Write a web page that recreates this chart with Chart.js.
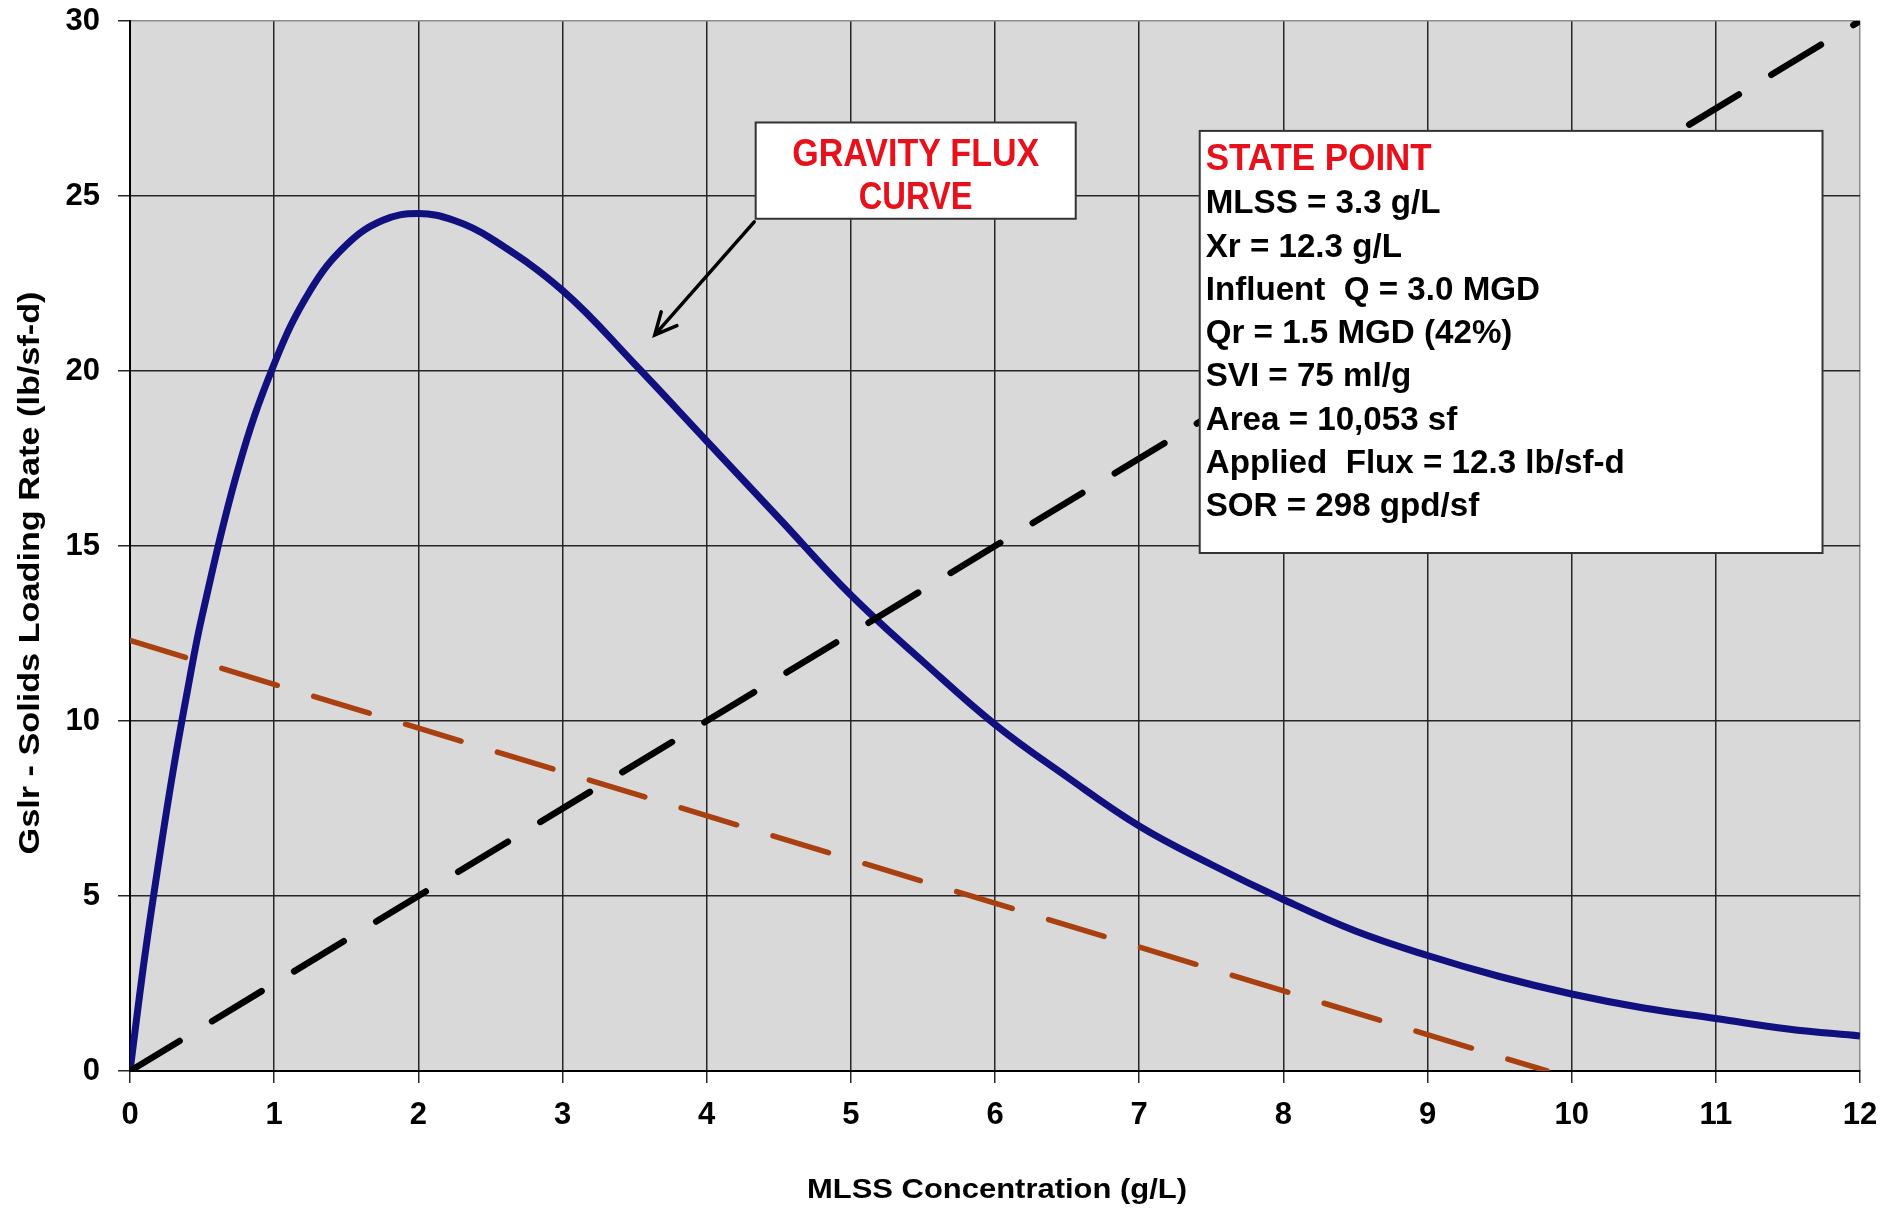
<!DOCTYPE html>
<html>
<head>
<meta charset="utf-8">
<script src="https://cdn.jsdelivr.net/npm/chart.js@4.4.1/dist/chart.umd.min.js"></script>
<style>
  html, body { margin: 0; padding: 0; background: #fff; }
  canvas { display: block; }
</style>
</head>
<body>
<canvas id="flux-chart" width="1883" height="1210"></canvas>
<script>
// gravity flux curve
const mlss = [0, 0.1, 0.2, 0.3, 0.4, 0.5, 0.75, 1, 1.25, 1.5, 1.75, 2, 2.25, 2.5, 3, 3.5, 4, 4.5, 5, 5.5, 6, 6.5, 7, 7.5, 8, 8.5, 9, 9.5, 10, 10.5, 11, 11.5, 12];
const gravityFlux = [0, 3.2, 6.0, 8.6, 10.9, 13.0, 17.2, 20.2, 22.3, 23.6, 24.3, 24.5, 24.3, 23.8, 22.3, 20.2, 18.0, 15.8, 13.6, 11.7, 9.9, 8.4, 7.0, 5.9, 4.9, 4.0, 3.3, 2.7, 2.2, 1.8, 1.5, 1.2, 1.0];

// overflow (black dashed) and underflow (brown dashed) operating lines
const overflowX = [0, 12];
const overflowFlux = [0, 30];
const underflowX = [0, 9.83];
const underflowFlux = [12.3, 0];

const xTickValues = [0, 1, 2, 3, 4, 5, 6, 7, 8, 9, 10, 11, 12];
const yTickValues = [0, 5, 10, 15, 20, 25, 30];

const xTitle = "MLSS Concentration (g/L)";
const yTitle = "Gslr - Solids Loading Rate (lb/sf-d)";

const gravityLabel = ["GRAVITY FLUX", "CURVE"];
const stateTitle = "STATE POINT";
const stateLines = [
  "MLSS = 3.3 g/L",
  "Xr = 12.3 g/L",
  "Influent  Q = 3.0 MGD",
  "Qr = 1.5 MGD (42%)",
  "SVI = 75 ml/g",
  "Area = 10,053 sf",
  "Applied  Flux = 12.3 lb/sf-d",
  "SOR = 298 gpd/sf",
];

const toPoints = (xs, ys) => xs.map((x, i) => ({ x: x, y: ys[i] }));

const FONT = "'Liberation Sans', Arial, sans-serif";

// box / arrow placement in data units
const gravityBox = { x1: 4.34, x2: 6.56, y1: 27.1, y2: 24.35 };
const arrowFrom = { x: 4.33, y: 24.26 };
const arrowTo = { x: 3.64, y: 21.03 };
const stateBox = { x1: 7.42, x2: 11.74, y1: 26.86, y2: 14.8 };

function squeezed(ctx, text, x, y, width) {
  const w = ctx.measureText(text).width;
  ctx.save();
  ctx.translate(x, y);
  ctx.scale(width / w, 1);
  ctx.fillText(text, 0, 0);
  ctx.restore();
}

const plotBackground = {
  id: "plotBackground",
  beforeDraw(chart) {
    const { ctx, chartArea: a } = chart;
    ctx.save();
    ctx.fillStyle = "#d9d9d9";
    ctx.fillRect(a.left, a.top, a.right - a.left, a.bottom - a.top);
    ctx.restore();
  },
};

const annotations = {
  id: "annotations",
  afterDatasetsDraw(chart) {
    const { ctx, scales } = chart;
    const px = (v) => scales.x.getPixelForValue(v);
    const py = (v) => scales.y.getPixelForValue(v);
    ctx.save();
    ctx.fillStyle = "#000";
    ctx.textBaseline = "alphabetic";

    // axis titles
    ctx.textAlign = "center";
    ctx.font = "bold 28px " + FONT;
    squeezed(ctx, xTitle, 997, 1198, 380);
    ctx.save();
    ctx.translate(39, 573);
    ctx.rotate(-Math.PI / 2);
    ctx.font = "bold 30px " + FONT;
    squeezed(ctx, yTitle, 0, 0, 563);
    ctx.restore();

    // arrow
    const ax0 = px(arrowFrom.x), ay0 = py(arrowFrom.y);
    const ax1 = px(arrowTo.x), ay1 = py(arrowTo.y);
    const ang = Math.atan2(ay1 - ay0, ax1 - ax0);
    ctx.strokeStyle = "#000";
    ctx.lineWidth = 3.5;
    ctx.lineCap = "round";
    ctx.beginPath();
    ctx.moveTo(ax0, ay0);
    ctx.lineTo(ax1, ay1);
    ctx.moveTo(ax1 - 24 * Math.cos(ang - 0.45), ay1 - 24 * Math.sin(ang - 0.45));
    ctx.lineTo(ax1, ay1);
    ctx.lineTo(ax1 - 24 * Math.cos(ang + 0.45), ay1 - 24 * Math.sin(ang + 0.45));
    ctx.stroke();

    // gravity flux box
    let bx = px(gravityBox.x1), by = py(gravityBox.y1);
    let bw = px(gravityBox.x2) - bx, bh = py(gravityBox.y2) - by;
    ctx.fillStyle = "#fff";
    ctx.fillRect(bx, by, bw, bh);
    ctx.strokeStyle = "#333";
    ctx.lineWidth = 2;
    ctx.strokeRect(bx, by, bw, bh);
    ctx.fillStyle = "#e8101a";
    ctx.font = "bold 38px " + FONT;
    ctx.textAlign = "center";
    squeezed(ctx, gravityLabel[0], bx + bw / 2, by + 43, 247);
    squeezed(ctx, gravityLabel[1], bx + bw / 2, by + 86, 114);

    // state point box
    bx = px(stateBox.x1); by = py(stateBox.y1);
    bw = px(stateBox.x2) - bx; bh = py(stateBox.y2) - by;
    ctx.fillStyle = "#fff";
    ctx.fillRect(bx, by, bw, bh);
    ctx.strokeStyle = "#333";
    ctx.lineWidth = 2;
    ctx.strokeRect(bx, by, bw, bh);
    ctx.textAlign = "left";
    ctx.fillStyle = "#e8101a";
    ctx.font = "bold 37px " + FONT;
    squeezed(ctx, stateTitle, bx + 6, by + 39, 226);
    ctx.fillStyle = "#000";
    ctx.font = "bold 33px " + FONT;
    const sx = 419 / ctx.measureText(stateLines[6]).width;
    stateLines.forEach((line, i) => {
      const w = ctx.measureText(line).width * sx;
      squeezed(ctx, line, bx + 6, by + 39 + 43.3 * (i + 1), w);
    });

    ctx.restore();
  },
};

const gridColor = (c) => (c.tick && (c.tick.value === 30 || c.tick.value === 12) ? "#8c8c8c" : "#262626");

const ctx = document.getElementById("flux-chart").getContext("2d");
const chart = new Chart(ctx, {
  type: "scatter",
  data: {
    datasets: [
      {
        label: "Overflow",
        data: toPoints(overflowX, overflowFlux),
        showLine: true,
        borderColor: "#000",
        borderWidth: 6.5,
        borderDash: [58, 38],
        borderCapStyle: "round",
        pointRadius: 0,
      },
      {
        label: "Underflow",
        data: toPoints(underflowX, underflowFlux),
        showLine: true,
        borderColor: "#a8400f",
        borderWidth: 5.5,
        borderDash: [58, 38],
        borderCapStyle: "round",
        pointRadius: 0,
      },
      {
        label: "Gravity Flux",
        data: toPoints(mlss, gravityFlux),
        showLine: true,
        borderColor: "#10107e",
        borderWidth: 7,
        tension: 0.4,
        pointRadius: 0,
      },
    ],
  },
  options: {
    responsive: false,
    animation: false,
    layout: { padding: { top: 21, right: 23, left: 0, bottom: 0 } },
    plugins: {
      legend: { display: false },
      tooltip: { enabled: false },
    },
    scales: {
      x: {
        type: "linear",
        min: 0,
        max: 12,
        afterBuildTicks: (s) => { s.ticks = xTickValues.map((v) => ({ value: v })); },
        afterFit: (s) => {
          s.height = 139;
          s.paddingLeft = 0;
          s.paddingRight = 0;
        },
        ticks: {
          color: "#000",
          padding: 14,
          font: { family: FONT, size: 31, weight: "bold" },
        },
        grid: { color: gridColor, lineWidth: 1.5, tickLength: 12, tickColor: "#262626" },
        border: { color: "#000", width: 2 },
      },
      y: {
        min: 0,
        max: 30,
        afterBuildTicks: (s) => { s.ticks = yTickValues.map((v) => ({ value: v })); },
        afterFit: (s) => {
          s.width = 130;
          s.paddingTop = 0;
          s.paddingBottom = 0;
        },
        ticks: {
          color: "#000",
          padding: 18,
          font: { family: FONT, size: 31, weight: "bold" },
        },
        grid: { color: gridColor, lineWidth: 1.5, tickLength: 12, tickColor: "#262626" },
        border: { color: "#000", width: 2 },
      },
    },
  },
  plugins: [plotBackground, annotations],
});
</script>
</body>
</html>
